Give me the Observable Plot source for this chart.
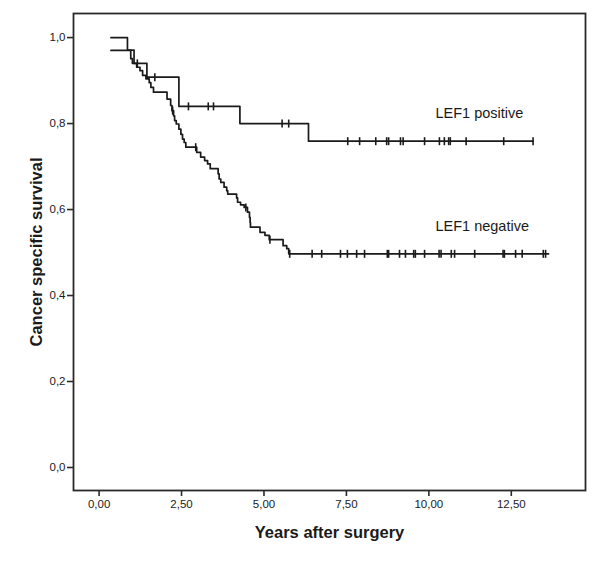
<!DOCTYPE html>
<html>
<head>
<meta charset="utf-8">
<script src="https://cdn.jsdelivr.net/npm/d3@7"></script>
<script src="https://cdn.jsdelivr.net/npm/@observablehq/plot@0.6"></script>
<style>
  html, body { margin: 0; padding: 0; background: #fff; }
</style>
</head>
<body>
<div id="chart"></div>
<script>
// Kaplan-Meier step data (time in years, survival after the step)
const posTimes = [0.36, 0.86, 1.06, 1.45, 2.42, 4.27, 6.35, 13.16];
const posSurv  = [1.000, 0.971, 0.940, 0.908, 0.840, 0.800, 0.759, 0.759];

const negTimes = [0.36, 0.96, 1.01, 1.14, 1.24, 1.32, 1.42, 1.52, 1.57, 1.65,
  2.06, 2.17, 2.21, 2.26, 2.29, 2.34, 2.42, 2.48, 2.53, 2.58, 2.63, 2.96,
  3.08, 3.20, 3.29, 3.37, 3.61, 3.64, 3.69, 3.79, 3.87, 3.90, 4.17, 4.20,
  4.29, 4.40, 4.50, 4.56, 4.58, 4.59, 4.88, 5.03, 5.16, 5.58, 5.69, 5.75, 13.63];
const negSurv  = [0.970, 0.951, 0.940, 0.931, 0.923, 0.912, 0.904, 0.895, 0.884, 0.873,
  0.857, 0.842, 0.830, 0.818, 0.807, 0.799, 0.787, 0.775, 0.764, 0.756, 0.745, 0.733,
  0.722, 0.714, 0.706, 0.695, 0.683, 0.671, 0.663, 0.652, 0.644, 0.636, 0.627, 0.617,
  0.611, 0.605, 0.594, 0.582, 0.570, 0.559, 0.547, 0.540, 0.530, 0.516, 0.509, 0.497, 0.497];

// censored observations (years)
const posCensor = [1.16, 1.69, 2.71, 3.31, 3.47, 5.55, 5.75, 7.54, 7.90, 8.39, 8.72, 8.78,
  9.14, 9.22, 9.87, 10.32, 10.47, 10.60, 10.65, 11.13, 12.27, 13.16];
const negCensor = [2.23, 2.93, 4.45, 5.18, 5.78, 6.46, 6.75, 7.32, 7.53, 7.81, 8.05, 8.74,
  8.78, 9.11, 9.29, 9.54, 9.59, 9.87, 10.31, 10.37, 10.68, 10.78, 11.39, 12.25, 12.29,
  12.63, 12.83, 13.47, 13.54];

const xTicks = [0, 2.5, 5, 7.5, 10, 12.5];
const yTicks = [0, 0.2, 0.4, 0.6, 0.8, 1.0];
const groupLabels = ["LEF1 positive", "LEF1 negative"];
const labelX = [10.2, 10.2];
const labelY = [0.823, 0.560];

const toPoints = (ts, ss) => ts.map((t, i) => ({t, s: ss[i]}));
const survAt = (ts, ss, t) => { let s = ss[0]; for (let i = 0; i < ts.length; i++) if (ts[i] <= t) s = ss[i]; return s; };
const posPts = toPoints(posTimes, posSurv);
const negPts = toPoints(negTimes, negSurv);
const posC = posCensor.map(t => ({t, s: survAt(posTimes, posSurv, t)}));
const negC = negCensor.map(t => ({t, s: survAt(negTimes, negSurv, t)}));
const labels = groupLabels.map((l, i) => ({l, x: labelX[i], y: labelY[i]}));

const vbar = { draw(ctx, size) { const r = Math.sqrt(size / Math.PI); ctx.moveTo(0, -r); ctx.lineTo(0, r); } };
const comma = (d, n) => d.toFixed(n).replace(".", ",");
const ink = "#1a1a1a";

const chart = Plot.plot({
  width: 600,
  height: 561,
  marginLeft: 73,
  marginRight: 15,
  marginTop: 13,
  marginBottom: 71,
  style: { fontFamily: "Liberation Sans, Arial, sans-serif", fontSize: "11.5px", color: ink, background: "#fff" },
  x: { domain: [-0.776, 14.75] },
  y: { domain: [-0.0535, 1.056] },
  marks: [
    Plot.frame({ stroke: "#2a2a2a", strokeWidth: 1.8 }),
    Plot.axisX(xTicks, { tickSize: 6, tickPadding: 3, tickFormat: d => comma(d, 2), label: null, stroke: "#2a2a2a", strokeWidth: 1.6, fontSize: 11.5 }),
    Plot.axisY(yTicks, { tickSize: 6, tickPadding: 2, tickFormat: d => comma(d, 1), label: null, stroke: "#2a2a2a", strokeWidth: 1.6, fontSize: 11.5 }),
    Plot.line(posPts, { x: "t", y: "s", curve: "step-after", stroke: ink, strokeWidth: 1.7 }),
    Plot.line(negPts, { x: "t", y: "s", curve: "step-after", stroke: ink, strokeWidth: 1.7 }),
    Plot.dot(posC, { x: "t", y: "s", symbol: vbar, r: 4, stroke: ink, strokeWidth: 1.6, fill: "none" }),
    Plot.dot(negC, { x: "t", y: "s", symbol: vbar, r: 4, stroke: ink, strokeWidth: 1.6, fill: "none" }),
    Plot.text(labels, { x: "x", y: "y", text: "l", textAnchor: "start", fontSize: 14.5, fill: ink }),
    Plot.text(["Years after surgery"], { frameAnchor: "bottom", dy: 42, textAnchor: "middle", lineAnchor: "middle", fontSize: 16.5, fontWeight: "bold", fill: ink }),
    Plot.text(["Cancer specific survival"], { frameAnchor: "left", dx: -37, rotate: -90, textAnchor: "middle", lineAnchor: "middle", fontSize: 16.5, fontWeight: "bold", fill: ink })
  ]
});
document.getElementById("chart").appendChild(chart);
</script>
</body>
</html>
